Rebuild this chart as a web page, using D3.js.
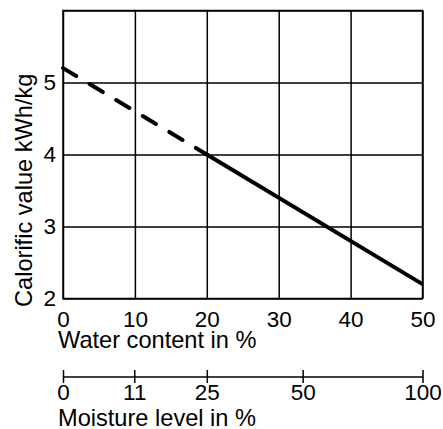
<!DOCTYPE html>
<html>
<head>
<meta charset="utf-8">
<script src="https://cdn.jsdelivr.net/npm/d3@7"></script>
<style>
  body { margin: 0; background: #fff; }
  svg { display: block; }
  .axis text, .title { font-family: "Liberation Sans", Arial, sans-serif; fill: #000; }
  .axis text { font-size: 22.5px; }
  .title { font-size: 23.6px; }
</style>
</head>
<body>
<div id="chart"></div>
<script>
// water content ticks (%), calorific ticks (kWh/kg), moisture ticks (%)
var waterTicks = [0, 10, 20, 30, 40, 50];
var calorificTicks = [2, 3, 4, 5, 6];
var moistureTicks = [0, 11, 25, 50, 100];

// calorific value vs water content
var dashedPart = [{w: 0, cv: 5.2}, {w: 20, cv: 4.0}];
var solidPart = [{w: 20, cv: 4.0}, {w: 50, cv: 2.2}];

var W = 443, H = 429;
var m = {left: 63, right: 422.5, top: 10.5, bottom: 298.5};

var svg = d3.select("#chart").append("svg")
    .attr("width", W)
    .attr("height", H);

var x = d3.scaleLinear().domain([0, 50]).range([m.left, m.right]);
var y = d3.scaleLinear().domain([2, 6]).range([m.bottom, m.top]);

// moisture level sits on the water content scale: w = 100u / (100 + u)
var xm = d3.scaleLinear()
    .domain(moistureTicks)
    .range(moistureTicks.map(function(u) { return x(100 * u / (100 + u)); }));

// grid + x labels
var gx = svg.append("g")
    .attr("class", "axis")
    .attr("transform", "translate(0," + m.bottom + ")")
    .call(d3.axisBottom(x).tickValues(waterTicks).tickFormat(d3.format("d"))
      .tickSize(-(m.bottom - m.top)).tickPadding(13));
gx.select(".domain").remove();
gx.selectAll("line").attr("stroke", "#000").attr("stroke-width", 1.5);

var gy = svg.append("g")
    .attr("class", "axis")
    .attr("transform", "translate(" + m.left + ",0)")
    .call(d3.axisLeft(y).tickValues(calorificTicks).tickFormat(d3.format("d"))
      .tickSize(-(m.right - m.left)).tickPadding(7));
gy.select(".domain").remove();
gy.selectAll("line").attr("stroke", "#000").attr("stroke-width", 1.5);
gy.selectAll(".tick").filter(function(d) { return d === 6; }).select("text").remove();

svg.append("rect")
    .attr("x", m.left).attr("y", m.top)
    .attr("width", m.right - m.left).attr("height", m.bottom - m.top)
    .attr("fill", "none").attr("stroke", "#000").attr("stroke-width", 1.5);

// curve
var line = d3.line()
    .x(function(d) { return x(d.w); })
    .y(function(d) { return y(d.cv); });

svg.append("path")
    .datum(dashedPart)
    .attr("d", line)
    .attr("fill", "none")
    .attr("stroke", "#000")
    .attr("stroke-width", 4)
    .attr("stroke-linecap", "round")
    .attr("stroke-dasharray", "15.5,15.5");

svg.append("path")
    .datum(solidPart)
    .attr("d", line)
    .attr("fill", "none")
    .attr("stroke", "#000")
    .attr("stroke-width", 4);

// second axis: moisture level
var gm = svg.append("g")
    .attr("class", "axis")
    .attr("transform", "translate(0,376.5)")
    .call(d3.axisBottom(xm).tickValues(moistureTicks).tickFormat(d3.format("d")).tickSizeOuter(0));
gm.select(".domain").attr("stroke", "#000").attr("stroke-width", 1.5);
gm.selectAll(".tick line").attr("y1", -6.5).attr("y2", 6.5).attr("stroke", "#000").attr("stroke-width", 1.5);
gm.selectAll(".tick text").attr("y", 23.5).attr("dy", 0);

// titles
svg.append("text")
    .attr("class", "title")
    .attr("x", 58)
    .attr("y", 348)
    .text("Water content in %");

svg.append("text")
    .attr("class", "title")
    .attr("x", 58)
    .attr("y", 426)
    .text("Moisture level in %");

svg.append("text")
    .attr("class", "title")
    .attr("transform", "translate(31.5,307) rotate(-90)")
    .text("Calorific value kWh/kg");
</script>
</body>
</html>
